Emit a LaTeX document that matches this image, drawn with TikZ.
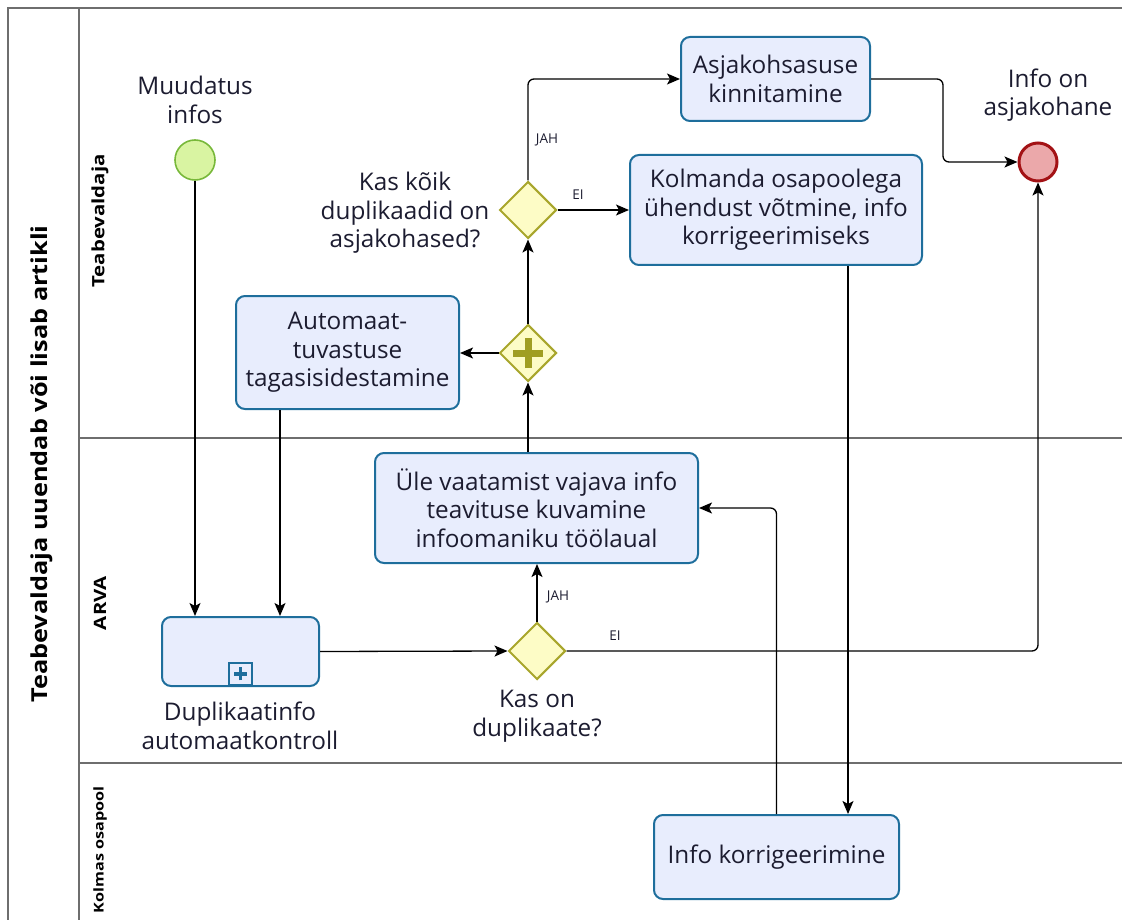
\documentclass[tikz,border=0pt]{standalone}
\usepackage{fontspec}
\setmainfont{Open Sans}
\usetikzlibrary{shapes.geometric,arrows.meta}
\definecolor{taskfill}{HTML}{E8EDFD}
\definecolor{taskdraw}{HTML}{1E6E9C}
\definecolor{gwfill}{HTML}{FDFCC6}
\definecolor{gwdraw}{HTML}{A8A62C}
\definecolor{gwplus}{HTML}{A09E22}
\definecolor{startfill}{HTML}{D9F4A2}
\definecolor{startdraw}{HTML}{78B83A}
\definecolor{endfill}{HTML}{EBA8AA}
\definecolor{enddraw}{HTML}{A31215}
\definecolor{txt}{HTML}{1C1C30}
\definecolor{lanedraw}{HTML}{6E6E6E}
\begin{document}
\begin{tikzpicture}[x=1pt,y=-1pt,
  task/.style={draw=taskdraw,fill=taskfill,line width=2pt,rounded corners=9pt,align=center,text=txt,font=\fontsize{24.3}{28.5}\selectfont,inner sep=0pt},
  gw/.style={diamond,draw=gwdraw,fill=gwfill,line width=2pt,minimum width=57pt,minimum height=57pt,inner sep=0pt,aspect=1},
  startev/.style={circle,draw=startdraw,fill=startfill,line width=1.6pt,minimum size=40pt,inner sep=0pt},
  endev/.style={circle,draw=enddraw,fill=endfill,line width=3pt,minimum size=38pt,inner sep=0pt},
  flow/.style={line width=1.3pt,draw=black,-{Stealth[length=13pt,width=11pt,inset=3pt]}},
  lbl/.style={text=txt,align=center,font=\fontsize{24.3}{28.5}\selectfont,inner sep=0pt},
  small/.style={text=txt,font=\fontsize{13.5}{15}\selectfont,inner sep=0pt},
  lane/.style={text=black,font=\bfseries\fontsize{17}{18}\selectfont,rotate=90,inner sep=0pt},
  pool/.style={draw=lanedraw,line width=1.5pt}
]
\useasboundingbox (0,0) rectangle (1122,920);
% pool and lanes
\draw[pool] (1122,8) -- (8,8) -- (8,920);
\draw[pool] (79,8) -- (79,920);
\draw[pool] (79,438) -- (1122,438);
\draw[pool] (79,763) -- (1122,763);
\node[lane,font=\bfseries\fontsize{22}{24}\selectfont] (pooltitle) at (42,464) {\scalebox{1.15}[1]{Teabevaldaja uuendab või lisab artikli}};
\node[lane] (lane1) at (100,221) {\scalebox{1.2}[1]{Teabevaldaja}};
\node[lane] (lane2) at (100,603) {\scalebox{1.2}[1]{ARVA}};
\node[lane,font=\bfseries\fontsize{13.5}{15}\selectfont] (lane3) at (100,850) {\scalebox{1.2}[1]{Kolmas osapool}};

% events
\node[startev] (start) at (195,160) {};
\node[endev] (end) at (1038,162) {};
\node[lbl] (startlbl) at (195,100) {Muudatus\\infos};
\node[lbl] (endlbl) at (1048,95) {Info on\\asjakohane};

% tasks
\node[task,minimum width=189pt,minimum height=84pt] (t1) at (775.5,79) {Asjakohsasuse\\kinnitamine};
\node[task,minimum width=292pt,minimum height=110pt] (t2) at (776,210) {Kolmanda osapoolega\\ühendust võtmine, info\\korrigeerimiseks};
\node[task,minimum width=223pt,minimum height=113pt] (t3) at (347.5,352.5) {Automaat-\\tuvastuse\\tagasisidestamine};
\node[task,minimum width=323pt,minimum height=110pt] (t4) at (536.5,508) {Üle vaatamist vajava info\\teavituse kuvamine\\infoomaniku töölaual};
\node[task,minimum width=157pt,minimum height=69pt] (sp) at (240.5,651.5) {};
\node[task,minimum width=245pt,minimum height=84pt] (t5) at (776.5,857) {Info korrigeerimine};
\node[draw=taskdraw,fill=taskfill,line width=2.2pt,minimum width=23pt,minimum height=22pt,inner sep=0pt,anchor=south] (mk) at ([yshift=1pt]sp.south) {};
\draw[taskdraw,line width=3.5pt] ([xshift=-6.5pt]mk.center) -- ([xshift=6.5pt]mk.center);
\draw[taskdraw,line width=3.5pt] ([yshift=-6.5pt]mk.center) -- ([yshift=6.5pt]mk.center);
\node[lbl] (splbl) at (240,726) {Duplikaatinfo\\automaatkontroll};

% gateways
\node[gw] (g1) at (528,210) {};
\node[gw] (pg) at (528,353) {};
\draw[gwplus,line width=7pt] ([xshift=-15pt]pg.center) -- ([xshift=15pt]pg.center);
\draw[gwplus,line width=7pt] ([yshift=-15pt]pg.center) -- ([yshift=15pt]pg.center);
\node[gw] (g2) at (537,651) {};
\node[lbl] (g1lbl) at (405,213) {Kas kõik\\duplikaadid on\\asjakohased?};
\node[lbl] (g2lbl) at (537,716) {Kas on\\duplikaate?};

% helper coordinates
\coordinate (x280) at (280,0);
\coordinate (x848) at (848,0);
\coordinate (x943) at (943,0);

% flows
\draw[flow] (start.south) -- (start.south |- sp.north);
\draw[flow] (t3.south -| x280) -- (sp.north -| x280);
\draw[flow] (sp.east) -- (g2.west);
\draw[flow] (g2.north) -- (t4.south -| g2.north);
\draw[flow,rounded corners=6pt] (g2.east) -| (end.south);
\draw[flow] (t4.north -| pg.south) -- (pg.south);
\draw[flow] (pg.west) -- (t3.east |- pg.west);
\draw[flow] (pg.north) -- (g1.south);
\draw[flow] (g1.east) -- (t2.west |- g1.east);
\draw[flow,rounded corners=6pt] (g1.north) |- (t1.west);
\draw[flow,rounded corners=6pt] (t1.east) -- (t1.east -| x943) -- (x943 |- end.west) -- (end.west);
\draw[flow] (t2.south -| x848) -- (t5.north -| x848);
\draw[flow,rounded corners=6pt] (t5.north) |- (t4.east);

% flow labels
\node[small] (jah1) at (547,140) {JAH};
\node[small] (ei1) at (578,195) {EI};
\node[small] (jah2) at (558,597) {JAH};
\node[small] (ei2) at (615,636) {EI};
\end{tikzpicture}
\end{document}
